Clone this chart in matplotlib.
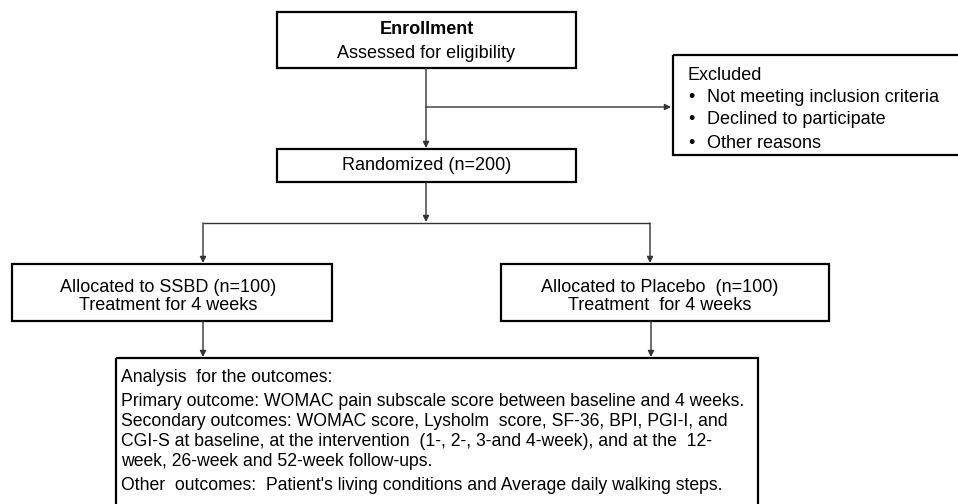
import matplotlib.pyplot as plt
from matplotlib.patches import Rectangle

plt.rcParams['font.family'] = ['Liberation Sans', 'DejaVu Sans']

# box texts
enroll_title = "Enrollment"
enroll_sub = "Assessed for eligibility"
random_label = "Randomized (n=200)"
excluded_title = "Excluded"
excluded_items = ["Not meeting inclusion criteria", "Declined to participate", "Other reasons"]
arm_labels = ["Allocated to SSBD (n=100)", "Allocated to Placebo  (n=100)"]
arm_sub = ["Treatment for 4 weeks", "Treatment  for 4 weeks"]
analysis_lines = [
    "Analysis  for the outcomes:",
    "Primary outcome: WOMAC pain subscale score between baseline and 4 weeks.",
    "Secondary outcomes: WOMAC score, Lysholm  score, SF-36, BPI, PGI-I, and",
    "CGI-S at baseline, at the intervention  (1-, 2-, 3-and 4-week), and at the  12-",
    "week, 26-week and 52-week follow-ups.",
    "Other  outcomes:  Patient's living conditions and Average daily walking steps.",
]

W, H = 958, 504
fig = plt.figure(figsize=(W / 100, H / 100), dpi=100)
ax = fig.add_axes([0, 0, 1, 1])
ax.set_xlim(0, W)
ax.set_ylim(H, 0)
ax.axis('off')

fs = 13
fs_small = 12.7
box_lw = 1.6
line_col = '#333333'


def box(x0, y0, x1, y1):
    ax.add_patch(Rectangle((x0, y0), x1 - x0, y1 - y0, fill=False,
                           edgecolor='black', linewidth=box_lw, clip_on=False))


def arrow(x0, y0, x1, y1):
    ax.annotate('', xy=(x1, y1), xytext=(x0, y0),
                arrowprops=dict(arrowstyle='-|>', color=line_col, lw=1.0,
                                mutation_scale=9, shrinkA=0, shrinkB=0))


def seg(xs, ys):
    ax.plot(xs, ys, color=line_col, lw=1.0, solid_capstyle='butt')


# enrollment
box(277, 12, 576, 68)
ax.text(426.5, 30, enroll_title, ha='center', va='center', fontsize=fs, fontweight='bold')
ax.text(426.5, 53, enroll_sub, ha='center', va='center', fontsize=fs)

# excluded
box(673, 55, 962, 155)
ax.text(688, 75, excluded_title, ha='left', va='center', fontsize=fs)
for yy, item in zip([97, 119, 143], excluded_items):
    ax.text(688, yy, "\u2022", ha='left', va='center', fontsize=fs)
    ax.text(707, yy, item, ha='left', va='center', fontsize=fs)

# randomized
box(277, 149, 576, 182)
ax.text(426.5, 166, random_label, ha='center', va='center', fontsize=fs)

# arrows top
arrow(426, 68, 426, 148)
arrow(426, 107, 671, 107)
arrow(426, 182, 426, 222)
seg([203, 650], [223, 223])
arrow(203, 223, 203, 263)
arrow(650, 223, 650, 263)

# arms
arm_boxes = [(12, 264, 332, 321), (501, 264, 829, 321)]
arm_cx = [168, 660]
for (x0, y0, x1, y1), cx, lab, sub in zip(arm_boxes, arm_cx, arm_labels, arm_sub):
    box(x0, y0, x1, y1)
    ax.text(cx, 287, lab, ha='center', va='center', fontsize=fs)
    ax.text(cx, 305, sub, ha='center', va='center', fontsize=fs)

arrow(203, 321, 203, 357)
arrow(651, 321, 651, 357)

# analysis box
box(116, 358, 758, 510)
for yy, line in zip([378, 402, 421, 441, 462, 485], analysis_lines):
    ax.text(121, yy, line, ha='left', va='center', fontsize=fs_small)

fig.savefig('out.png', dpi=100)
